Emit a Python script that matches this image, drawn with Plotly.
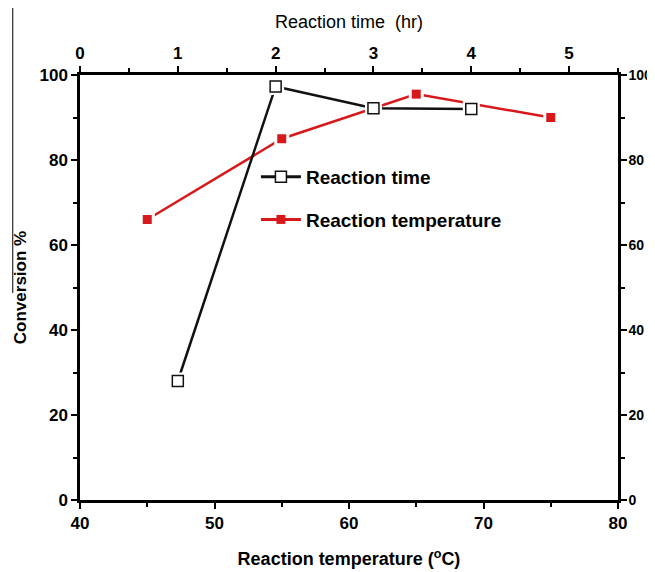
import plotly.graph_objects as go

# Data
time_hr = [1, 2, 3, 4]
conv_time = [28, 97.3, 92.2, 92]
temp_c = [45, 55, 65, 75]
conv_temp = [66, 85, 95.5, 90]

BLACK = "#111111"
RED = "#d7191c"
FONT = "Liberation Sans, Arial, sans-serif"

fig = go.Figure()

# lines
fig.add_trace(go.Scatter(x=time_hr, y=conv_time, mode="lines", xaxis="x2", yaxis="y",
                         line=dict(color=BLACK, width=2.5), showlegend=False, hoverinfo="skip"))
fig.add_trace(go.Scatter(x=temp_c, y=conv_temp, mode="lines", xaxis="x", yaxis="y",
                         line=dict(color=RED, width=2.5), showlegend=False, hoverinfo="skip"))
# white gaps around markers
fig.add_trace(go.Scatter(x=time_hr, y=conv_time, mode="markers", xaxis="x2", yaxis="y",
                         marker=dict(symbol="square", size=17, color="white", line=dict(width=0)),
                         showlegend=False, hoverinfo="skip"))
fig.add_trace(go.Scatter(x=temp_c, y=conv_temp, mode="markers", xaxis="x", yaxis="y",
                         marker=dict(symbol="square", size=15, color="white", line=dict(width=0)),
                         showlegend=False, hoverinfo="skip"))
# markers
fig.add_trace(go.Scatter(x=time_hr, y=conv_time, mode="markers", xaxis="x2", yaxis="y",
                         marker=dict(symbol="square", size=11, color="white", line=dict(color=BLACK, width=1.5)),
                         showlegend=False))
fig.add_trace(go.Scatter(x=temp_c, y=conv_temp, mode="markers", xaxis="x", yaxis="y",
                         marker=dict(symbol="square", size=9, color=RED, line=dict(width=0)),
                         showlegend=False))
# legend entries
fig.add_trace(go.Scatter(x=[None], y=[None], mode="lines+markers", name="Reaction time",
                         xaxis="x2", yaxis="y", legendgroup="a",
                         line=dict(color=BLACK, width=3),
                         marker=dict(symbol="square", size=11, color="white", line=dict(color=BLACK, width=1.5))))
fig.add_trace(go.Scatter(x=[None], y=[None], mode="lines+markers", name="Reaction temperature",
                         xaxis="x", yaxis="y", legendgroup="b",
                         line=dict(color=RED, width=3),
                         marker=dict(symbol="square", size=9, color=RED)))
# dummy for right axis
fig.add_trace(go.Scatter(x=[None], y=[None], xaxis="x", yaxis="y2", showlegend=False))

tickfont = dict(family=FONT, size=17, color="black", weight="bold")
axis_common = dict(showline=True, linecolor="black", linewidth=2.5, ticks="outside",
                   tickwidth=2, ticklen=6, tickcolor="black", showgrid=False, zeroline=False,
                   automargin=False)
minor_common = dict(ticks="outside", ticklen=4, tickwidth=2, tickcolor="black")

# page body has an 8px default margin, so the figure is sized/positioned to compensate
fig.update_layout(
    width=647, height=564,
    margin=dict(l=72, r=37, t=67, b=72),
    paper_bgcolor="white", plot_bgcolor="white",
    font=dict(family=FONT, color="black"),
    xaxis=dict(range=[40, 80], dtick=10, tick0=40, tickfont=tickfont,
               minor=dict(dtick=5, **minor_common),
               title=dict(text="Reaction temperature (<sup>o</sup>C)",
                          font=dict(family=FONT, size=18, weight="bold"), standoff=21),
               **axis_common),
    xaxis2=dict(range=[0, 5.5], dtick=1, tick0=0, overlaying="x", side="top", anchor="y",
                tickfont=tickfont,
                minor=dict(dtick=0.5, **minor_common),
                title=dict(text="Reaction time  (hr)", font=dict(family=FONT, size=18), standoff=12),
                **axis_common),
    yaxis=dict(range=[0, 100], dtick=20, tickfont=tickfont,
               minor=dict(dtick=10, **minor_common),
               title=dict(text="Conversion %", font=dict(family=FONT, size=17, weight="bold"), standoff=9),
               **axis_common),
    yaxis2=dict(range=[0, 100], dtick=20, overlaying="y", side="right", anchor="x",
                tickfont=dict(family=FONT, size=14, color="black", weight="bold"),
                ticklabelstandoff=-1,
                minor=dict(dtick=10, **minor_common),
                **axis_common),
    legend=dict(x=0.327, y=0.805, xanchor="left", yanchor="top", bgcolor="rgba(0,0,0,0)",
                font=dict(family=FONT, size=19, weight="bold"), itemwidth=40,
                tracegroupgap=15, traceorder="grouped"),
    shapes=[dict(type="line", xref="paper", yref="paper", x0=-0.125, x1=-0.125,
                 y0=1.16, y1=0.487, line=dict(color="black", width=1))],
)

fig.write_html("out.html")
